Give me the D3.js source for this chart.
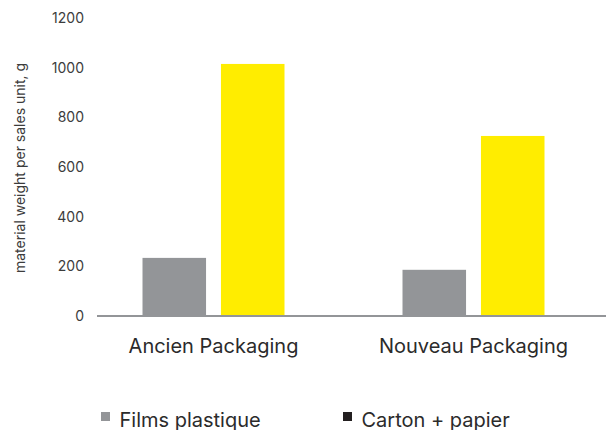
<!DOCTYPE html>
<html>
<head>
<meta charset="utf-8">
<script src="https://cdn.jsdelivr.net/npm/d3@7"></script>
<style>
  body { margin: 0; background: #fff; }
  svg { font-family: Inter, "Noto Sans", sans-serif; }
</style>
</head>
<body>
<div id="chart"></div>
<script>
const categories = ["Ancien Packaging", "Nouveau Packaging"];
const seriesNames = ["Films plastique", "Carton + papier"];
const filmsPlastique = [234, 186];
const cartonPapier = [1015, 725];
const yTicks = [0, 200, 400, 600, 800, 1000, 1200];

const width = 606, height = 430;
const colors = ["#939598", "#ffed00"];
const legendColors = ["#939598", "#231f20"];

const svg = d3.select("#chart").append("svg")
    .attr("width", width)
    .attr("height", height);

const x0 = d3.scaleBand()
    .domain(categories)
    .range([83.5, 603.5])
    .padding(0);

const x1 = d3.scaleBand()
    .domain([0, 1])
    .range([-71, 71])
    .paddingInner(0.19)
    .paddingOuter(0);

const y = d3.scaleLinear()
    .domain([0, 1200])
    .range([316, 18]);

const data = categories.map((c, i) => [filmsPlastique[i], cartonPapier[i]]);

// bars
svg.append("g").selectAll("g")
    .data(data)
    .enter().append("g")
    .attr("transform", (d, i) => `translate(${x0(categories[i]) + x0.bandwidth() / 2},0)`)
    .selectAll("rect")
    .data(d => d.map((v, j) => ({ key: j, value: v })))
    .enter().append("rect")
    .attr("x", d => x1(d.key))
    .attr("width", x1.bandwidth())
    .attr("y", d => y(d.value))
    .attr("height", d => y(0) - y(d.value))
    .attr("fill", d => colors[d.key]);

// baseline
svg.append("line")
    .attr("x1", 97).attr("x2", 606)
    .attr("y1", y(0)).attr("y2", y(0))
    .attr("stroke", "#939598")
    .attr("stroke-width", 2);

// y tick labels
svg.append("g").selectAll("text")
    .data(yTicks)
    .enter().append("text")
    .attr("x", 84)
    .attr("y", d => y(d))
    .attr("dy", "0.35em")
    .attr("text-anchor", "end")
    .attr("font-size", 14)
    .attr("fill", "#3c3c3c")
    .text(d => d);

// category labels
svg.append("g").selectAll("text")
    .data(categories)
    .enter().append("text")
    .attr("x", d => x0(d) + x0.bandwidth() / 2)
    .attr("y", 353)
    .attr("text-anchor", "middle")
    .attr("font-size", 20)
    .attr("fill", "#2b2b2b")
    .text(d => d);

// y axis title
svg.append("text")
    .attr("transform", `translate(25,${168}) rotate(-90)`)
    .attr("text-anchor", "middle")
    .attr("font-size", 14)
    .attr("fill", "#3c3c3c")
    .text("material weight per sales unit, g");

// legend
const legendX = [101, 343];
const legend = svg.append("g").selectAll("g")
    .data(seriesNames)
    .enter().append("g")
    .attr("transform", (d, i) => `translate(${legendX[i]},412)`);

legend.append("rect")
    .attr("width", 9).attr("height", 9)
    .attr("fill", (d, i) => legendColors[i]);

legend.append("text")
    .attr("x", 18.5)
    .attr("y", 14.5)
    .attr("font-size", 20)
    .attr("fill", "#2b2b2b")
    .text(d => d);
</script>
</body>
</html>
